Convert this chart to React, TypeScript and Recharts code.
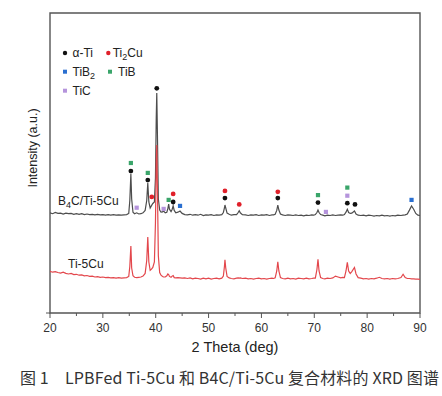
import React from 'react';
import { ComposedChart, Line, Scatter, XAxis, YAxis, ReferenceArea } from 'recharts';

// 2θ positions (deg)
const theta = [
  20.0, 20.5, 21.0, 21.5, 22.0, 22.5, 23.0, 23.5, 24.0, 24.5, 25.0, 25.5, 26.0, 26.5, 27.0, 27.5,
  28.0, 28.5, 29.0, 29.5, 30.0, 30.5, 31.0, 31.5, 32.0, 32.5, 33.0, 33.5, 34.0, 34.5, 34.9, 35.1,
  35.3, 35.45, 35.7, 36.0, 36.4, 36.8, 37.2, 37.6, 38.0, 38.3, 38.5, 38.7, 38.95, 39.2, 39.45, 39.75,
  39.95, 40.1, 40.2, 40.32, 40.5, 40.75, 41.0, 41.3, 41.5, 41.8, 42.1, 42.3, 42.45, 42.6, 42.9, 43.1,
  43.3, 43.5, 43.8, 44.2, 44.6, 45.0, 45.5, 46.0, 46.5, 47.0, 47.5, 48.0, 48.5, 49.0, 49.5, 50.0,
  50.5, 51.0, 51.5, 52.0, 52.5, 52.8, 53.0, 53.1, 53.25, 53.5, 53.9, 54.3, 54.8, 55.3, 55.6, 55.8,
  56.0, 56.4, 57.0, 57.5, 58.0, 58.5, 59.0, 59.5, 60.0, 60.5, 61.0, 61.5, 62.0, 62.3, 62.6, 62.9,
  63.1, 63.3, 63.6, 64.0, 64.5, 65.0, 65.5, 66.0, 66.5, 67.0, 67.5, 68.0, 68.5, 69.0, 69.5, 69.9,
  70.2, 70.5, 70.7, 70.9, 71.2, 71.6, 72.0, 72.5, 73.0, 73.5, 74.0, 74.5, 75.0, 75.4, 75.7, 76.0,
  76.25, 76.5, 76.8, 77.1, 77.6, 77.9, 78.3, 78.8, 79.3, 79.8, 80.3, 80.8, 81.3, 81.8, 82.3, 82.8,
  83.3, 83.8, 84.3, 84.8, 85.3, 85.8, 86.4, 86.8, 87.2, 87.6, 88.0, 88.4, 88.8, 89.2, 89.6, 90.0,
];

// B4C/Ti-5Cu intensity (a.u., offset)
const b4cTi5Cu = [
  33.4, 33.1, 33.5, 33.2, 33.3, 33.0, 33.3, 33.1, 33.2, 32.9, 33.1, 32.9, 33.1, 32.8, 33.0, 32.8,
  32.9, 32.7, 32.9, 32.7, 32.8, 32.6, 32.8, 32.6, 32.8, 32.6, 32.7, 32.6, 32.7, 32.8, 33.2, 37.5,
  46.3, 38.0, 33.6, 33.1, 33.4, 33.0, 33.1, 33.4, 34.2, 37.5, 43.3, 37.0, 35.0, 35.8, 36.5, 37.0,
  45.0, 65.0, 73.3, 60.0, 38.0, 34.3, 33.6, 33.7, 34.0, 33.4, 33.6, 34.8, 36.3, 34.6, 33.8, 34.5,
  35.7, 34.2, 33.4, 33.6, 34.0, 33.2, 32.8, 32.7, 32.9, 32.6, 32.8, 32.6, 32.9, 32.5, 32.7, 32.6,
  32.8, 32.5, 32.7, 32.6, 32.8, 33.5, 35.0, 36.0, 35.0, 33.3, 32.9, 32.6, 32.8, 32.8, 33.5, 34.1,
  33.4, 32.8, 32.7, 32.5, 32.7, 32.6, 32.8, 32.5, 32.7, 32.6, 32.8, 32.5, 32.7, 32.7, 32.9, 34.2,
  36.0, 34.3, 33.0, 32.7, 32.5, 32.7, 32.6, 32.5, 32.7, 32.5, 32.6, 32.4, 32.6, 32.5, 32.7, 32.6,
  32.8, 33.5, 34.3, 33.5, 32.8, 32.6, 32.4, 32.6, 32.5, 32.7, 32.5, 32.6, 32.7, 32.6, 32.8, 33.6,
  34.6, 33.5, 33.2, 33.3, 34.0, 33.0, 32.6, 32.5, 32.6, 32.4, 32.6, 32.5, 32.3, 32.5, 32.4, 32.6,
  32.4, 32.5, 32.3, 32.5, 32.4, 32.6, 32.5, 32.6, 32.7, 33.0, 34.3, 35.7, 34.6, 33.2, 32.6, 32.5,
];

// Ti-5Cu intensity (a.u., offset)
const ti5Cu = [
  13.9, 13.6, 13.8, 13.5, 13.3, 13.6, 13.2, 13.0, 13.2, 12.8, 12.9, 12.6, 12.7, 12.4, 12.5, 12.2,
  12.3, 12.0, 12.1, 11.9, 12.0, 11.8, 11.9, 11.7, 11.8, 11.6, 11.8, 11.6, 11.7, 11.8, 12.2, 15.5,
  22.3, 15.0, 12.4, 11.9, 11.8, 11.9, 12.0, 12.3, 13.2, 17.5, 25.3, 17.0, 14.2, 14.6, 15.2, 17.0,
  30.0, 50.0, 56.0, 42.0, 19.0, 13.5, 12.6, 12.2, 12.0, 12.0, 12.4, 13.0, 12.8, 12.2, 11.9, 12.3,
  12.5, 11.8, 11.7, 11.8, 11.7, 11.6, 11.7, 11.5, 11.7, 11.4, 11.6, 11.5, 11.3, 11.6, 11.4, 11.6,
  11.3, 11.5, 11.6, 11.4, 11.6, 12.3, 15.5, 17.7, 15.0, 12.2, 11.7, 11.5, 11.4, 11.6, 11.7, 11.6,
  11.7, 11.5, 11.6, 11.4, 11.5, 11.3, 11.5, 11.6, 11.4, 11.5, 11.3, 11.5, 11.6, 11.5, 11.7, 14.0,
  17.1, 14.0, 11.8, 11.5, 11.4, 11.6, 11.4, 11.5, 11.3, 11.6, 11.5, 11.4, 11.6, 11.4, 11.5, 11.6,
  11.6, 14.5, 17.9, 14.0, 11.8, 11.5, 11.4, 11.6, 11.5, 11.7, 12.3, 12.0, 11.7, 11.9, 11.8, 14.0,
  16.9, 14.0, 13.2, 13.8, 15.2, 13.0, 11.8, 11.6, 11.4, 11.5, 11.3, 11.5, 11.4, 11.6, 11.9, 11.5,
  11.4, 11.5, 11.3, 11.5, 11.4, 11.5, 11.8, 12.9, 11.8, 11.5, 11.5, 11.4, 11.4, 11.3, 11.3, 11.2,
];

// phase identification markers: [2θ, height]
const alphaTi = [[35.3, 47.3], [38.5, 44.3], [40.2, 74.9], [43.3, 37.0], [53.1, 38.3], [63.1, 38.3], [70.7, 36.8], [76.25, 36.6], [77.7, 36.2]];
const ti2Cu = [[39.25, 38.7], [43.3, 39.7], [53.1, 40.7], [55.8, 36.2], [63.1, 40.4]];
const tiB2 = [[44.6, 35.7], [88.4, 37.7]];
const tiB = [[35.3, 50.0], [38.5, 46.7], [42.45, 37.7], [70.7, 39.3], [76.25, 41.8]];
const tiC = [[36.4, 35.1], [41.5, 34.7], [72.2, 33.7], [76.25, 39.1]];

const xTicks = [20, 25, 30, 35, 40, 45, 50, 55, 60, 65, 70, 75, 80, 85, 90];
const xDomain = [20, 90];
const yDomain = [0, 100];

const data = theta.map((t, i) => ({ theta: t, comp: b4cTi5Cu[i], ti: ti5Cu[i] }));
const pts = (arr: number[][]) => arr.map(([t, v]) => ({ theta: t, y: v }));

const FONT = '"Liberation Sans", Arial, sans-serif';
const AXIS = '#555';

const COLORS = {
  alpha: '#111111',
  ti2cu: '#e0202a',
  tib2: '#2a6fd0',
  tib: '#3aa56a',
  tic: '#b594dc',
};

const dot = (color: string) => (p: any) => (
  <circle cx={p.cx} cy={p.cy} r={2.4} fill={color} />
);
const square = (color: string) => (p: any) => (
  <rect x={p.cx - 2.1} y={p.cy - 2.1} width={4.2} height={4.2} fill={color} />
);

const XTick = (props: any) => {
  const { x, y, payload } = props;
  const v = payload.value;
  const major = v % 10 === 0;
  return (
    <g>
      <line x1={x} x2={x} y1={y} y2={y + (major ? 5 : 3)} stroke={AXIS} strokeWidth={1} />
      {v === xDomain[0] && <line x1={x - 4} x2={x} y1={y} y2={y} stroke={AXIS} strokeWidth={1} />}
      {major && (
        <text x={x} y={y + 19} textAnchor="middle" fontFamily={FONT} fontSize={12} fill="#333">
          {v}
        </text>
      )}
    </g>
  );
};

export default function App() {
  return (
    <div style={{ position: 'absolute', left: 0, top: 0, width: 442, height: 396, background: '#fff' }}>
      <ComposedChart
        width={442}
        height={396}
        data={data}
        margin={{ top: 13, right: 22, bottom: 53, left: 50 }}
      >
        <XAxis
          dataKey="theta"
          type="number"
          domain={xDomain}
          ticks={xTicks}
          interval={0}
          tickSize={0}
          tickMargin={0}
          tick={<XTick />}
          tickLine={false}
          height={30}
          axisLine={false}
          allowDataOverflow
        />
        <YAxis
          type="number"
          domain={yDomain}
          width={0}
          tick={false}
          tickLine={false}
          axisLine={false}
          allowDataOverflow
        />
        <ReferenceArea
          x1={xDomain[0]}
          x2={xDomain[1]}
          y1={yDomain[0]}
          y2={yDomain[1]}
          fill="none"
          fillOpacity={0}
          stroke={AXIS}
          strokeWidth={1.4}
          ifOverflow="visible"
        />
        <Line dataKey="comp" type="linear" stroke="#4d4d4d" strokeWidth={1.2} dot={false} isAnimationActive={false} />
        <Line dataKey="ti" type="linear" stroke="#e3474c" strokeWidth={1.2} dot={false} isAnimationActive={false} />
        <Scatter data={pts(alphaTi)} dataKey="y" shape={dot(COLORS.alpha)} isAnimationActive={false} />
        <Scatter data={pts(ti2Cu)} dataKey="y" shape={dot(COLORS.ti2cu)} isAnimationActive={false} />
        <Scatter data={pts(tiB2)} dataKey="y" shape={square(COLORS.tib2)} isAnimationActive={false} />
        <Scatter data={pts(tiB)} dataKey="y" shape={square(COLORS.tib)} isAnimationActive={false} />
        <Scatter data={pts(tiC)} dataKey="y" shape={square(COLORS.tic)} isAnimationActive={false} />

        <g fontFamily={FONT} fontSize={12} fill="#222">
          {/* legend */}
          <circle cx={65} cy={53} r={2.2} fill={COLORS.alpha} />
          <text x={72.5} y={57.3}>α-Ti</text>
          <circle cx={108.3} cy={53} r={2.2} fill={COLORS.ti2cu} />
          <text x={112.7} y={57.3}>
            Ti<tspan fontSize={9} dy={3}>2</tspan><tspan dy={-3}>Cu</tspan>
          </text>
          <rect x={63} y={69.7} width={4} height={4} fill={COLORS.tib2} />
          <text x={72.5} y={76}>
            TiB<tspan fontSize={9} dy={3}>2</tspan>
          </text>
          <rect x={108} y={69.7} width={4} height={4} fill={COLORS.tib} />
          <text x={118} y={76}>TiB</text>
          <rect x={63} y={88.7} width={4} height={4} fill={COLORS.tic} />
          <text x={72.5} y={95}>TiC</text>

          {/* series labels */}
          <text x={58} y={205}>
            B<tspan fontSize={9} dy={3}>4</tspan><tspan dy={-3}>C/Ti-5Cu</tspan>
          </text>
          <text x={68} y={267.5}>Ti-5Cu</text>

          {/* axis titles */}
          <text x={235} y={352} textAnchor="middle" fontSize={14.5}>2 Theta (deg)</text>
          <text
            x={0}
            y={0}
            transform="translate(37,148) rotate(-90)"
            textAnchor="middle"
            fontSize={12.5}
          >
            Intensity (a.u.)
          </text>
        </g>
        <text
          x={20}
          y={384}
          fontFamily='"Noto Sans CJK SC", sans-serif'
          fontSize={16}
          fill="#333"
          textLength={419}
          lengthAdjust="spacing"
        >
          图 1　LPBFed Ti-5Cu 和 B4C/Ti-5Cu 复合材料的 XRD 图谱
        </text>
      </ComposedChart>
    </div>
  );
}
